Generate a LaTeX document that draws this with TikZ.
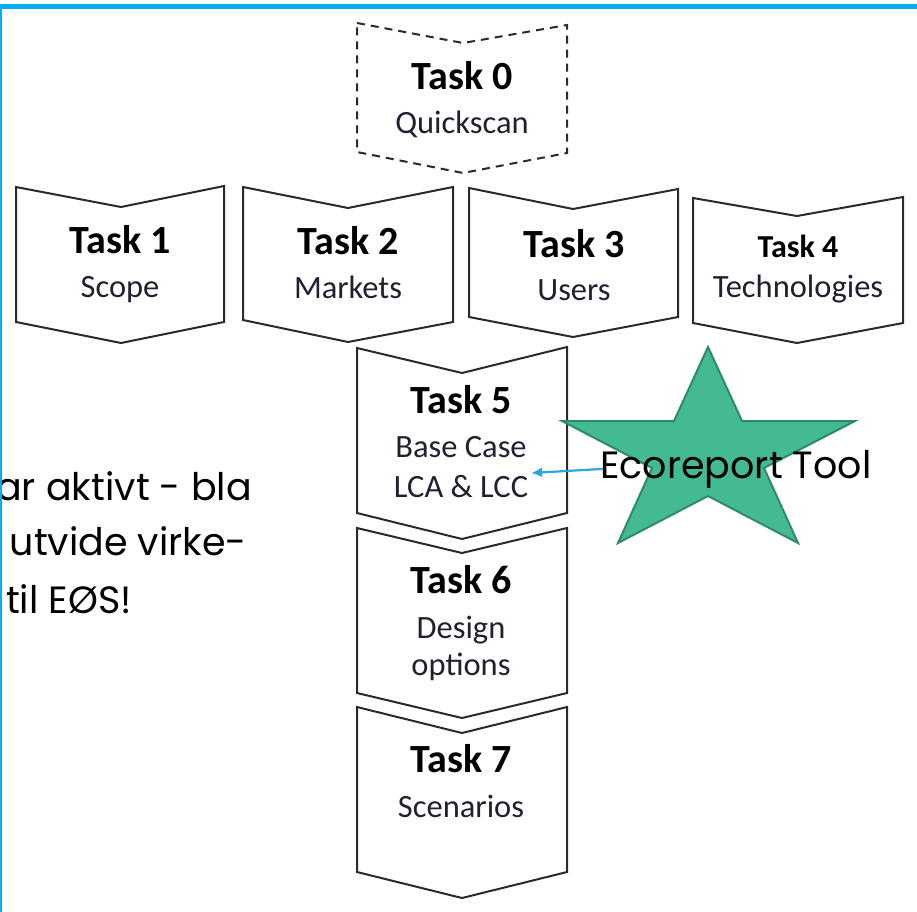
\documentclass[tikz,border=0pt]{standalone}
\usepackage{fontspec}
\setmainfont{Carlito}
\newfontfamily\geo{Poppins}
\usetikzlibrary{arrows.meta}
\definecolor{frameblue}{HTML}{00B0F0}
\definecolor{stargreen}{HTML}{43B994}
\definecolor{stargreenline}{HTML}{2F8A6A}
\definecolor{arrowblue}{HTML}{29A8E0}
\definecolor{boxline}{HTML}{2A2A2A}
\definecolor{subtext}{HTML}{202030}
\begin{document}
\begin{tikzpicture}[x=1pt,y=-1pt,
  chev/.style={draw=boxline,line width=2pt,line join=miter,fill=white},
  chevdash/.style={chev,dash pattern=on 8pt off 6pt},
  title/.style={font=\fontsize{40}{40}\selectfont\bfseries,anchor=base,inner sep=0pt},
  smalltitle/.style={font=\fontsize{32}{32}\selectfont\bfseries,anchor=base,inner sep=0pt},
  sub/.style={font=\fontsize{32.5}{32.5}\selectfont,anchor=base,inner sep=0pt,text=subtext},
  geotext/.style={font=\geo\fontsize{38}{38}\selectfont,inner sep=0pt}]
\useasboundingbox (0,0) rectangle (917,911);
\begin{scope}
\clip (0,0) rectangle (917,911);
% Task 0 (dashed)
\draw[chevdash] (357,23) -- (463,43) -- (567,25) -- (567,153) -- (463,173) -- (357,152) -- cycle;
\node[title] (t0) at (462,89) {Task 0};
\node[sub] (s0) at (462,133) {Quickscan};
% Task 1
\draw[chev] (16,187) -- (121,207) -- (224,186) -- (224,322) -- (121,343) -- (16,322) -- cycle;
\node[title] (t1) at (120,253) {Task 1};
\node[sub] (s1) at (120,297) {Scope};
% Task 2
\draw[chev] (243,187) -- (348,208) -- (453,187) -- (453,322) -- (348,342) -- (243,320) -- cycle;
\node[title] (t2) at (348,254) {Task 2};
\node[sub] (s2) at (348,298) {Markets};
% Task 3
\draw[chev] (469,188) -- (573,209) -- (678,189) -- (678,317) -- (573,337) -- (469,317) -- cycle;
\node[title] (t3) at (574,257) {Task 3};
\node[sub] (s3) at (574,300) {Users};
% Task 4
\draw[chev] (693,198) -- (797,216) -- (903,197) -- (903,323) -- (797,343) -- (693,323) -- cycle;
\node[smalltitle] (t4) at (798,257) {Task 4};
\node[sub] (s4) at (798,297) {Technologies};
% Task 5
\draw[chev] (357,348) -- (462,373) -- (567,347) -- (567,513) -- (462,539) -- (357,513) -- cycle;
\node[title] (t5) at (461,413) {Task 5};
\node[sub] (s5) at (461,457) {Base Case};
\node[sub] (lca) at (461,497) {LCA \& LCC};
% Task 6
\draw[chev] (357,528) -- (462,553) -- (567,528) -- (567,693) -- (462,718) -- (357,693) -- cycle;
\node[title] (t6) at (461,593) {Task 6};
\node[sub] (s6) at (461,638) {Design};
\node[sub] (s6b) at (461,675) {options};
% Task 7
\draw[chev] (357,707) -- (462,733) -- (567,707) -- (567,872) -- (462,898) -- (357,872) -- cycle;
\node[title] (t7) at (461,772) {Task 7};
\node[sub] (s7) at (461,817) {Scenarios};
% Star
\draw[fill=stargreen,draw=stargreenline,line width=2pt,line join=miter]
  (708,347) -- (742,421) -- (855,421) -- (764,468) -- (798,543) -- (708,496)
  -- (618,543) -- (652,468) -- (562,421) -- (674,421) -- cycle;
\node[geotext,anchor=base west] (eco) at (600,478) {Ecoreport Tool};
\coordinate (tip) at (531,473);
\draw[arrowblue,line width=2.2pt,-{Latex[length=11pt,width=10pt]}] ([xshift=3pt]eco.west) -- (tip);
% Left text (clipped at frame)
\node[geotext,anchor=base east] (l1) at (252,500) {ar aktivt - bla};
\node[geotext,anchor=base east] (l2) at (247,555) {utvide virke-};
\node[geotext,anchor=base east] (l3) at (132,613) {til EØS!};
% Frame
\draw[frameblue,line width=5pt] (-0.5,6.5) rectangle (930,930);
\end{scope}
\end{tikzpicture}
\end{document}
